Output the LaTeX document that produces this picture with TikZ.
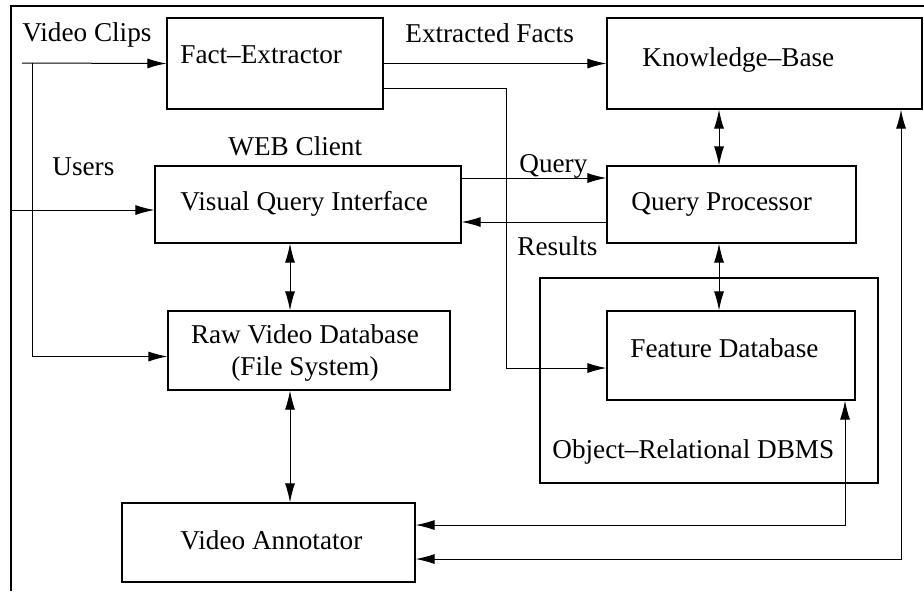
\documentclass[tikz,border=0pt]{standalone}
\usepackage{fontspec}
\setmainfont{Liberation Serif}
\usetikzlibrary{arrows.meta}
\tikzset{
	box/.style={draw, line width=0.6pt, inner sep=0pt},
	lbl/.style={anchor=base west, inner sep=0pt},
	conn/.style={line width=0.5pt},
	>={Latex[length=9.5pt,width=5pt]}
}

\begin{document}
\begin{tikzpicture}[x=0.5pt, y=-0.5pt, font=\fontsize{13.6}{16}\selectfont]
		\useasboundingbox (0,0) rectangle (924,591);
		\draw [line width=0.6pt] (11,591) -- (11,6) -- (924,6);

		% boxes
		\node [box, minimum width=108pt, minimum height=45.5pt] (fe) at (275,63.5) {};
		\node [box, minimum width=157.5pt, minimum height=45.5pt] (kb) at (764.5,63.5) {};
		\node [box, minimum width=153pt, minimum height=38.5pt] (vqi) at (308,204.5) {};
		\node [box, minimum width=124.5pt, minimum height=38.5pt] (qp) at (731.5,204.5) {};
		\node [box, minimum width=141pt, minimum height=39.5pt] (rvd) at (309,350.5) {};
		\node [box, minimum width=169pt, minimum height=102.5pt] (odbms) at (709,380.5) {};
		\node [box, minimum width=124pt, minimum height=44.5pt] (fdb) at (731,355.5) {};
		\node [box, minimum width=146.5pt, minimum height=39.5pt] (va) at (268.5,542.5) {};

		% texts
		\node [lbl] (vc-t) at (22,41) {Video Clips};
		\node [lbl] (fe-t) at (180,63) {Fact--Extractor};
		\node [lbl] (ef-t) at (405,42) {Extracted Facts};
		\node [lbl] (kb-t) at (642,66) {Knowledge--Base};
		\node [lbl] (web-t) at (228,155) {WEB Client};
		\node [lbl] (us-t) at (52,175) {Users};
		\node [lbl] (q-t) at (519,172) {Query};
		\node [lbl] (vqi-t) at (180,210) {Visual Query Interface};
		\node [lbl] (qp-t) at (631,210) {Query Processor};
		\node [lbl] (res-t) at (517,255) {Results};
		\node [align=center, inner sep=0pt] (rvd-t) at (305,353) {Raw Video Database\\(File System)};
		\node [lbl] (fdb-t) at (630,357) {Feature Database};
		\node [lbl] (odbms-t) at (552,458) {Object--Relational DBMS};
		\node [lbl] (va-t) at (180,549) {Video Annotator};

		% connectors
		\coordinate (vc) at (22,63);
		\coordinate (vcb) at (32,63);
		\coordinate (us) at (11,210);
		\coordinate (vx) at (290,450);
		\coordinate (cx) at (719,250);
		\coordinate (bend) at (506,368);
		\coordinate (fv) at (845,525);
		\coordinate (kv) at (901,559);

		\draw [conn, ->] (vc) -- (fe.west);
		\draw [conn, ->] (vcb) |- ([yshift=-3pt]rvd.west);
		\draw [conn, ->] (us) -- (vqi.west |- us);
		\draw [conn, ->] (fe.east) -- (kb.west);
		\draw [conn, ->] ([yshift=-12.25pt]fe.east) -| (bend) -- (fdb.west |- bend);
		\draw [conn, ->] ([yshift=13.25pt]vqi.east) -- ([yshift=13.25pt]qp.west);
		\draw [conn, ->] ([yshift=-8.75pt]qp.west) -- ([yshift=-8.75pt]vqi.east);
		\draw [conn, <->] (kb.south -| cx) -- (qp.north -| cx);
		\draw [conn, <->] (qp.south -| cx) -- (fdb.north -| cx);
		\draw [conn, <->] (vqi.south -| vx) -- (rvd.north -| vx);
		\draw [conn, <->] (rvd.south -| vx) -- (va.north -| vx);
		\draw [conn, <->] (va.east |- fv) -- (fv) -- (fdb.south -| fv);
		\draw [conn, <->] (va.east |- kv) -- (kv) -- (kb.south -| kv);

	\end{tikzpicture}
\end{document}
